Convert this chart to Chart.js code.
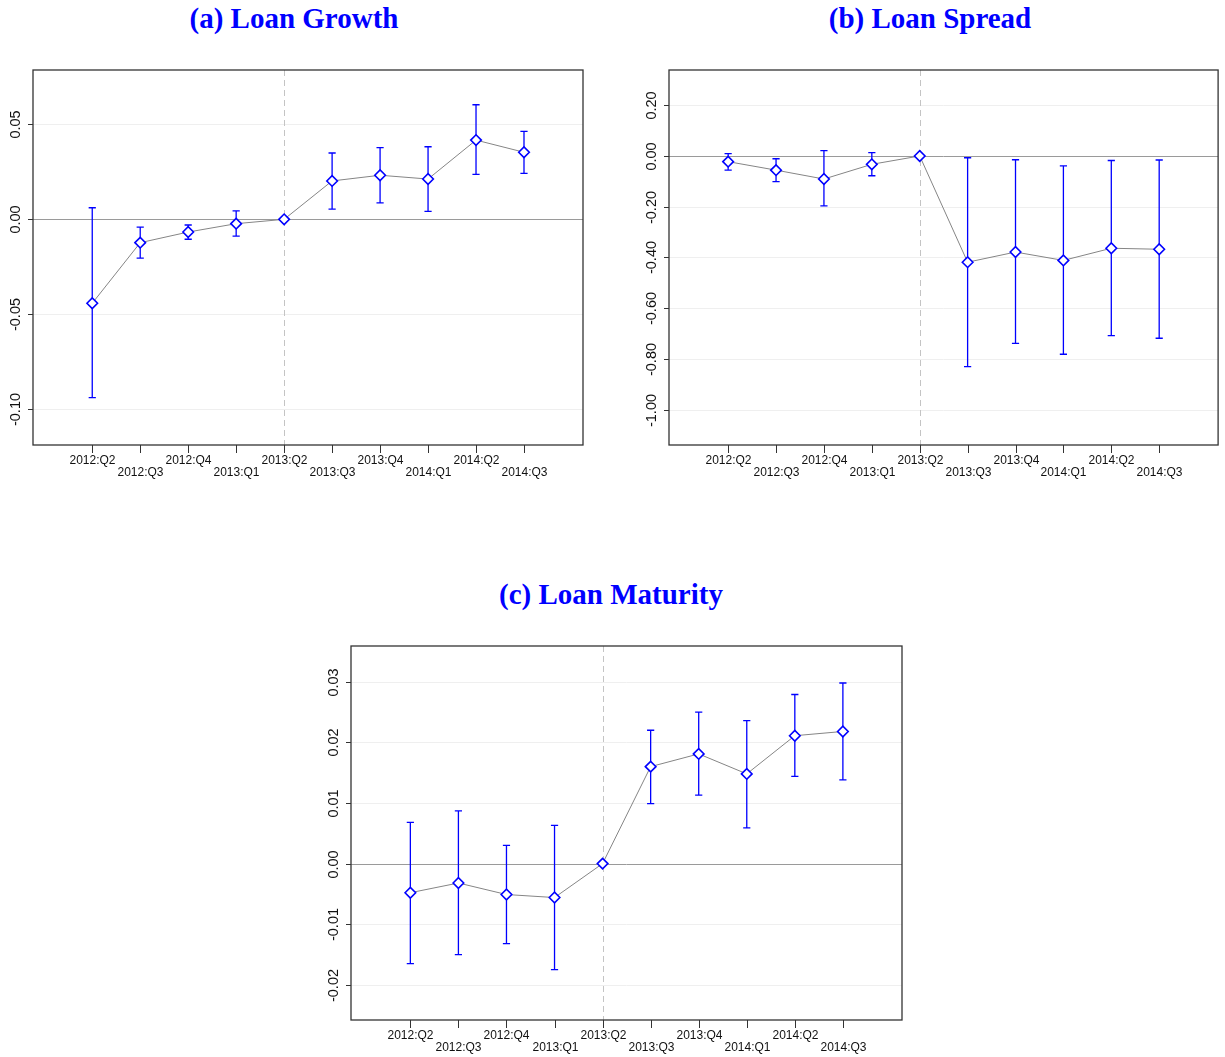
<!DOCTYPE html>
<html>
<head>
<meta charset="utf-8">
<script src="https://cdn.jsdelivr.net/npm/chart.js@4.4.1/dist/chart.umd.min.js"></script>
<style>
  html, body { margin: 0; padding: 0; background: #fff; }
  body { width: 1225px; height: 1057px; position: relative; overflow: hidden; }
  canvas { position: absolute; }
  .ttl { position: absolute; width: 500px; text-align: center; font-family: "Liberation Serif", "Times New Roman", serif;
         font-weight: bold; font-size: 29px; color: #0000ff; line-height: 36px; white-space: nowrap; }
</style>
</head>
<body>
<div class="ttl" style="left:44px; top:0px;">(a) Loan Growth</div>
<div class="ttl" style="left:680px; top:0px;">(b) Loan Spread</div>
<div class="ttl" style="left:361px; top:576px;">(c) Loan Maturity</div>
<canvas id="cA" width="612" height="490" style="left:0px; top:0px;"></canvas>
<canvas id="cB" width="613" height="490" style="left:612px; top:0px;"></canvas>
<canvas id="cC" width="620" height="497" style="left:300px; top:560px;"></canvas>
<script>
// Event-study quarters (2013:Q2 is the reference period)
const quarters = ['2012:Q2', '2012:Q3', '2012:Q4', '2013:Q1', '2013:Q2',
                  '2013:Q3', '2013:Q4', '2014:Q1', '2014:Q2', '2014:Q3'];
const baseIndex = 4;

// (a) Loan growth: coefficients and 95% bands
const growthCoef = [-0.0442, -0.0123, -0.0067, -0.0023, 0, 0.0202, 0.0232, 0.0212, 0.0417, 0.0353];
const growthLo   = [-0.0939, -0.0204, -0.0105, -0.0088, null, 0.0054, 0.0087, 0.0042, 0.0237, 0.0242];
const growthHi   = [ 0.0061, -0.0041, -0.0030,  0.0044, null, 0.0349, 0.0377, 0.0382, 0.0603, 0.0463];
const growthTicks = [0.05, 0.00, -0.05, -0.10];

// (b) Loan spread
const spreadCoef = [-0.0225, -0.056, -0.091, -0.033, 0, -0.419, -0.379, -0.412, -0.364, -0.368];
const spreadLo   = [-0.056, -0.101, -0.197, -0.078, null, -0.831, -0.739, -0.782, -0.709, -0.719];
const spreadHi   = [ 0.009, -0.011,  0.021,  0.013, null, -0.007, -0.015, -0.039, -0.018, -0.016];
const spreadTicks = [0.20, 0.00, -0.20, -0.40, -0.60, -0.80, -1.00];

// (c) Loan maturity
const maturityCoef = [-0.0048, -0.0032, -0.0051, -0.0056, 0, 0.0160, 0.0181, 0.0148, 0.0211, 0.0218];
const maturityLo   = [-0.0165, -0.0150, -0.0132, -0.0175, null, 0.0099, 0.0113, 0.0059, 0.0144, 0.0138];
const maturityHi   = [ 0.0068,  0.0087,  0.0030,  0.0063, null, 0.0220, 0.0250, 0.0236, 0.0279, 0.0298];
const maturityTicks = [0.03, 0.02, 0.01, 0.00, -0.01, -0.02];

const BLUE = '#0000ff';
const SANS = '"Liberation Sans", Arial, Helvetica, sans-serif';

// Frame, grid, reference lines, error bars and axis labels drawn through the chart scales
const eventFrame = {
  id: 'eventFrame',
  beforeDatasetsDraw(chart, args, opts) {
    const { ctx, chartArea: a, scales: { x, y } } = chart;
    ctx.save();
    // light horizontal grid
    ctx.strokeStyle = '#efefef';
    ctx.lineWidth = 1;
    opts.yTicks.forEach(v => {
      if (v === 0) return;
      const py = Math.round(y.getPixelForValue(v)) + 0.5;
      ctx.beginPath(); ctx.moveTo(a.left, py); ctx.lineTo(a.right, py); ctx.stroke();
    });
    // zero line
    const zy = Math.round(y.getPixelForValue(0)) + 0.5;
    ctx.strokeStyle = '#9a9a9a';
    ctx.beginPath(); ctx.moveTo(a.left, zy); ctx.lineTo(a.right, zy); ctx.stroke();
    // dashed line at the base period
    const bx = Math.round(x.getPixelForValue(baseIndex)) + 0.5;
    ctx.strokeStyle = '#c4c4c4';
    ctx.setLineDash([6, 4]);
    ctx.beginPath(); ctx.moveTo(bx, a.top); ctx.lineTo(bx, a.bottom); ctx.stroke();
    ctx.setLineDash([]);
    // confidence bands
    ctx.strokeStyle = BLUE;
    ctx.lineWidth = 1.3;
    opts.lo.forEach((lo, i) => {
      const hi = opts.hi[i];
      if (lo === null || hi === null) return;
      const px = x.getPixelForValue(i);
      const pl = y.getPixelForValue(lo), ph = y.getPixelForValue(hi);
      ctx.beginPath();
      ctx.moveTo(px, pl); ctx.lineTo(px, ph);
      ctx.moveTo(px - 3.6, pl); ctx.lineTo(px + 3.6, pl);
      ctx.moveTo(px - 3.6, ph); ctx.lineTo(px + 3.6, ph);
      ctx.stroke();
    });
    ctx.restore();
  },
  afterDraw(chart, args, opts) {
    const { ctx, chartArea: a, scales: { x, y } } = chart;
    ctx.save();
    // plot frame
    ctx.strokeStyle = '#333';
    ctx.lineWidth = 1.3;
    ctx.strokeRect(a.left, a.top, a.right - a.left, a.bottom - a.top);
    // x ticks and staggered labels
    ctx.lineWidth = 1;
    ctx.fillStyle = '#111';
    ctx.font = '12px ' + SANS;
    ctx.textAlign = 'center';
    ctx.textBaseline = 'middle';
    quarters.forEach((q, i) => {
      const px = Math.round(x.getPixelForValue(i)) + 0.5;
      ctx.beginPath(); ctx.moveTo(px, a.bottom); ctx.lineTo(px, a.bottom + 8); ctx.stroke();
      ctx.fillText(q, px, a.bottom + (i % 2 === 0 ? 16 : 28));
    });
    // y ticks and rotated labels
    ctx.font = '14.5px ' + SANS;
    opts.yTicks.forEach(v => {
      const py = Math.round(y.getPixelForValue(v)) + 0.5;
      ctx.beginPath(); ctx.moveTo(a.left - 5, py); ctx.lineTo(a.left, py); ctx.stroke();
      ctx.save();
      ctx.translate(a.left - 17.5, py);
      ctx.rotate(-Math.PI / 2);
      ctx.fillText(v.toFixed(2), 0, 0);
      ctx.restore();
    });
    ctx.restore();
  }
};

function eventChart(id, coef, lo, hi, yTicks, yMin, yMax, padding) {
  return new Chart(document.getElementById(id), {
    type: 'line',
    data: {
      datasets: [{
        data: coef.map((v, i) => ({ x: i, y: v })),
        borderColor: '#858585',
        borderWidth: 1,
        pointStyle: 'rectRot',
        pointRadius: 5.3,
        pointBorderWidth: 1.6,
        pointBorderColor: BLUE,
        pointBackgroundColor: '#ffffff',
        tension: 0
      }]
    },
    options: {
      responsive: false,
      animation: false,
      events: [],
      layout: { padding },
      scales: {
        x: { type: 'linear', min: -1.235, max: 10.23, display: false },
        y: { type: 'linear', min: yMin, max: yMax, display: false }
      },
      plugins: {
        legend: { display: false },
        tooltip: { enabled: false },
        eventFrame: { lo, hi, yTicks }
      }
    },
    plugins: [eventFrame]
  });
}

eventChart('cA', growthCoef, growthLo, growthHi, growthTicks, -0.1188, 0.0786,
           { left: 33, top: 70, right: 29, bottom: 45 });
eventChart('cB', spreadCoef, spreadLo, spreadHi, spreadTicks, -1.140, 0.339,
           { left: 57, top: 70, right: 6, bottom: 45 });
eventChart('cC', maturityCoef, maturityLo, maturityHi, maturityTicks, -0.0258, 0.0359,
           { left: 51, top: 86, right: 18, bottom: 37 });
</script>
</body>
</html>
